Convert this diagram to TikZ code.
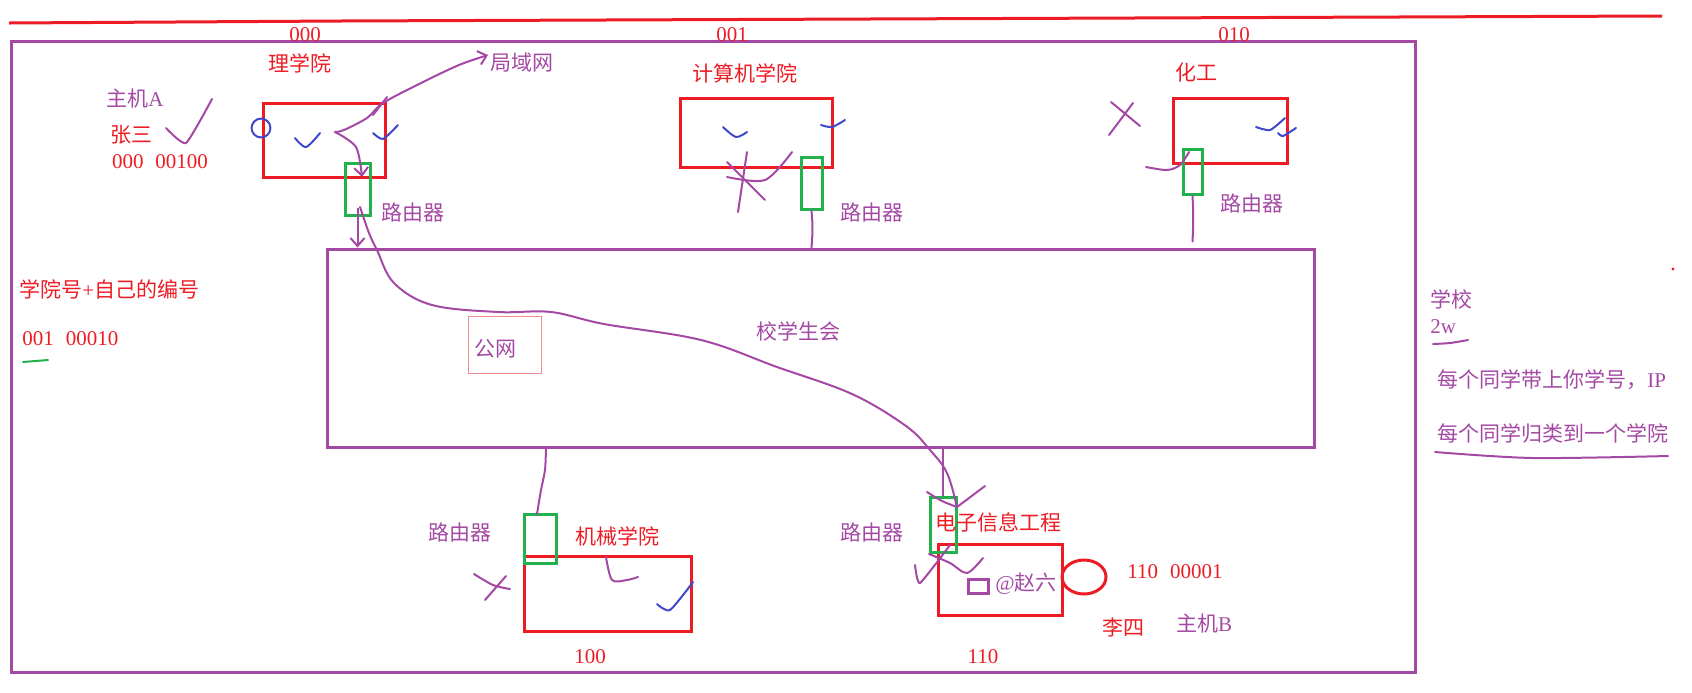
\documentclass[tikz,border=0pt]{standalone}
\usepackage{fontspec}
\setmainfont{Liberation Serif}
\newfontfamily\cjk{Noto Sans CJK SC}
\usetikzlibrary{shapes.geometric,arrows.meta}
\definecolor{paintred}{HTML}{ED1C24}
\definecolor{paintpurple}{HTML}{A349A4}
\definecolor{paintgreen}{HTML}{22B14C}
\definecolor{paintblue}{HTML}{3F48CC}
\definecolor{pinkline}{HTML}{F08C8C}
\newcommand{\zh}[1]{{\cjk #1}}

\begin{document}
\begin{tikzpicture}[x=0.5pt,y=-0.5pt,font=\fontsize{10.5}{12}\selectfont,
  ptext/.style={text=paintpurple,inner sep=0pt},
  rtext/.style={text=paintred,inner sep=0pt},
  campus/.style={draw=paintpurple,line width=1.5pt},
  college/.style={draw=paintred,line width=1.5pt},
  router/.style={draw=paintgreen,line width=1.5pt},
  pen/.style={paintpurple,line width=1pt,line cap=round,line join=round},
  bluepen/.style={paintblue,line width=1pt,line cap=round,line join=round},
  barb/.style={-{Straight Barb[length=4pt,width=7pt]}}]
\useasboundingbox (0,0) rectangle (1692,692);
\draw[paintred,line width=1.5pt] (9,23) -- (340,21) -- (1662,16);
\fill[paintred] (1673,269) circle (0.8pt);

% school and student union
\node[campus,minimum width=702pt,minimum height=315.5pt] (school) at (713,356.5) {};
\node[campus,minimum width=493.5pt,minimum height=99pt] (union) at (820.5,348) {};
\node[ptext] (unionlbl) at (798,331) {\zh{校学生会}};
\node[draw=pinkline,line width=0.5pt,minimum width=36.5pt,minimum height=28.5pt] (pub) at (504.5,344.5) {};
\node[ptext,anchor=west] (publbl) at (474,349) {\zh{公网}};

% colleges
\node[college,minimum width=61pt,minimum height=37pt] (sci) at (324,140) {};
\node[college,minimum width=76pt,minimum height=34.5pt] (cs) at (756,132.5) {};
\node[college,minimum width=57pt,minimum height=32.5pt] (chem) at (1230.5,131) {};
\node[college,minimum width=83.5pt,minimum height=37.5pt] (mech) at (607.5,593.5) {};
\node[college,minimum width=62pt,minimum height=35.5pt] (ee) at (1000,579.5) {};
\node[draw=paintred,line width=1.5pt,ellipse,minimum width=22pt,minimum height=17pt] (hostb) at (1084,577) {};
\node[draw=paintblue,line width=1pt,circle,minimum size=9pt] (port) at (261,128) {};
\node[draw=paintpurple,line width=1.5pt,minimum width=10pt,minimum height=7pt] (nic) at (978,586) {};

% routers
\node[router,minimum width=12.5pt,minimum height=26pt] (rsci) at (357.5,189) {};
\node[router,minimum width=10.5pt,minimum height=26pt] (rcs) at (811.5,183) {};
\node[router,minimum width=9.5pt,minimum height=22.5pt] (rchem) at (1192.5,171.5) {};
\node[router,minimum width=16pt,minimum height=24.5pt] (rmech) at (540,538.5) {};
\node[router,minimum width=13pt,minimum height=27.5pt] (ree) at (943,524.5) {};

% labels
\node[rtext] (n000) at (305,35) {000};
\node[rtext] (n001) at (732,35) {001};
\node[rtext] (n010) at (1234,35) {010};
\node[rtext] (scilbl) at (300,63) {\zh{理学院}};
\node[ptext] (lan) at (522,63) {\zh{局域网}};
\node[rtext] (cslbl) at (745,73) {\zh{计算机学院}};
\node[rtext] (chemlbl) at (1196,73) {\zh{化工}};
\node[ptext] (hosta) at (135,99) {\zh{主机}A};
\node[rtext] (zhang) at (131,135) {\zh{张三}};
\node[rtext] (zhangip) at (160,162) {000\hspace{6pt}00100};
\node[ptext] (r1lbl) at (413,213) {\zh{路由器}};
\node[ptext] (r2lbl) at (872,213) {\zh{路由器}};
\node[ptext] (r3lbl) at (1252,203) {\zh{路由器}};
\node[ptext] (r4lbl) at (460,532) {\zh{路由器}};
\node[ptext] (r5lbl) at (872,532) {\zh{路由器}};
\node[rtext,anchor=west] (rule) at (19,289) {\zh{学院号}+\zh{自己的编号}};
\node[rtext,anchor=west] (ruleex) at (22,339) {001\hspace{6pt}00010};
\node[rtext] (mechlbl) at (617,536) {\zh{机械学院}};
\node[rtext] (eelbl) at (998,522) {\zh{电子信息工程}};
\node[ptext] (zhao) at (1026,584) {@\zh{赵六}};
\node[rtext] (liip) at (1175,572) {110\hspace{6pt}00001};
\node[rtext] (li) at (1123,627) {\zh{李四}};
\node[ptext] (hostblbl) at (1204,624) {\zh{主机}B};
\node[rtext] (n100) at (590,657) {100};
\node[rtext] (n110) at (983,657) {110};
\node[ptext,anchor=west] (schoollbl) at (1430,299) {\zh{学校}};
\node[ptext,anchor=west] (size) at (1430,327) {2w};
\node[ptext,anchor=west] (note1) at (1437,380) {\zh{每个同学带上你学号，}IP};
\node[ptext,anchor=west] (note2) at (1437,433) {\zh{每个同学归类到一个学院}};

% connectors
\draw[pen,barb] plot[smooth] coordinates {(335,132) (344,130) (367,118) (383,103) (421,83) (459,65) (488,55)};
\draw[pen] (387,97) -- (373,115);
\draw[pen,barb] plot[smooth] coordinates {(335,132) (356,147) (362,177)};
\draw[pen,barb] ([yshift=4pt]rsci.south) -- (rsci.south |- union.north);
\draw[pen] plot[smooth,tension=0.6] coordinates {(360,207) (369,233) (377,250) (394,283) (432,305) (498,312) (551,312) (604,324) (701,340) (777,367) (852,394) (906,426) (930,450) (947,473) (957,507)};
\draw[pen] plot[smooth] coordinates {(927,492) (942,501) (957,507)} -- (985,486);
\draw[pen] (rcs.south) to[bend left=5] (rcs.south |- union.north);
\draw[pen] (rchem.south) to[bend left=3] ([yshift=3pt]rchem.south |- union.north);
\draw[pen] plot[smooth] coordinates {(546,447) (545,470) (541,490) (537,514)};
\draw[pen] (ree.north |- union.south) -- (ree.north);

% scribbles
\draw[pen] plot[smooth,tension=0.3] coordinates {(166,128) (186,143) (212,99)};
\draw[pen] (727,162) -- (765,200);
\draw[pen] (747,152) -- (738,212);
\draw[pen] plot[smooth] coordinates {(727,177) (765,180) (792,152)};
\draw[pen] (1111,102) -- (1140,126);
\draw[pen] (1133,103) -- (1109,135);
\draw[pen] plot[smooth] coordinates {(1146,167) (1167,170) (1180,165) (1189,152)};
\draw[pen] plot[smooth] coordinates {(606,557) (612,580) (627,580) (638,577)};
\draw[pen] plot[smooth] coordinates {(474,574) (493,585) (510,589)};
\draw[pen] (506,576) -- (485,600);
\draw[pen] plot[smooth] coordinates {(929,554) (950,563) (967,573) (983,558)};
\draw[pen] plot[smooth,tension=0.3] coordinates {(915,565) (920,583) (950,545)};
\draw[pen] plot[smooth] coordinates {(1433,344) (1450,343) (1468,340)};
\draw[pen] plot[smooth] coordinates {(1435,452) (1533,458) (1668,456)};
\draw[bluepen] plot[smooth,tension=0.5] coordinates {(295,138) (306,147) (320,133)};
\draw[bluepen] plot[smooth,tension=0.4] coordinates {(373,133) (383,139) (398,125)};
\draw[bluepen] plot[smooth,tension=0.5] coordinates {(723,127) (736,137) (747,132)};
\draw[bluepen] plot[smooth] coordinates {(821,125) (832,127) (845,120)};
\draw[bluepen] plot[smooth,tension=0.4] coordinates {(1256,127) (1270,130) (1285,118)};
\draw[bluepen] plot[smooth,tension=0.4] coordinates {(1278,133) (1283,136) (1296,128)};
\draw[bluepen] plot[smooth,tension=0.4] coordinates {(657,604) (670,610) (693,582)};
\draw[paintgreen,line width=1pt,line cap=round] (23,362) -- (48,360);
\end{tikzpicture}
\end{document}
